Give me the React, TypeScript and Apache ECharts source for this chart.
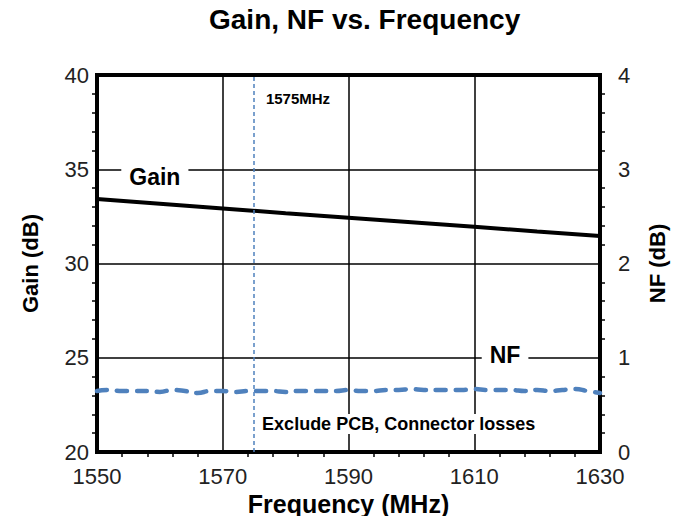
import React, { useEffect, useRef } from "react";
import * as echarts from "echarts";

const freqTicks = [1550, 1570, 1590, 1610, 1630];
const gainFreq = [1550, 1560, 1570, 1580, 1590, 1600, 1610, 1620, 1630];
const gainValues = [33.42, 33.17, 32.92, 32.67, 32.43, 32.19, 31.95, 31.7, 31.46];
const nfFreq = [
  1550, 1552, 1554, 1556, 1558, 1560, 1562, 1564, 1566, 1568, 1570, 1572, 1574, 1576,
  1578, 1580, 1582, 1584, 1586, 1588, 1590, 1592, 1594, 1596, 1598, 1600, 1602, 1604,
  1606, 1608, 1610, 1612, 1614, 1616, 1618, 1620, 1622, 1624, 1626, 1628, 1630,
];
const nfValues = [
  0.647, 0.658, 0.647, 0.647, 0.647, 0.637, 0.658, 0.647, 0.626, 0.647, 0.647, 0.637,
  0.647, 0.647, 0.647, 0.637, 0.647, 0.647, 0.647, 0.647, 0.658, 0.647, 0.647, 0.658,
  0.658, 0.668, 0.658, 0.658, 0.658, 0.658, 0.668, 0.658, 0.658, 0.658, 0.647, 0.658,
  0.647, 0.658, 0.668, 0.647, 0.626,
];
const markerFreq = 1575;
const annotations = [
  { text: "Gain", freq: 1559.2, gain: 34.6, size: 23, align: "center" },
  { text: "NF", freq: 1614.9, gain: 25.15, size: 23, align: "center" },
  { text: "1575MHz", freq: 1576.7, gain: 38.73, size: 15, align: "left" },
  { text: "Exclude PCB, Connector losses", freq: 1576.1, gain: 21.49, size: 18, align: "left" },
];

const FONT = "'Liberation Sans', Arial, sans-serif";

export default function App() {
  const ref = useRef<HTMLDivElement>(null);
  useEffect(() => {
    if (!ref.current) return;
    const chart = echarts.init(ref.current, undefined, { renderer: "svg" });
    const axisLabel = { color: "#222", fontSize: 22, fontFamily: FONT };
    const nameStyle = { color: "#000", fontSize: 22, fontWeight: "bold" as const, fontFamily: FONT };
    chart.setOption({
      animation: false,
      backgroundColor: "#fff",
      title: {
        text: "Gain, NF vs. Frequency",
        left: 204,
        top: 0,
        textStyle: { fontSize: 28, fontWeight: "bold", color: "#000", fontFamily: FONT },
      },
      grid: {
        left: 97,
        right: 86,
        top: 75,
        bottom: 72,
        show: true,
        borderColor: "#000",
        borderWidth: 4,
        backgroundColor: "transparent",
      },
      xAxis: {
        type: "value",
        min: 1550,
        max: 1630,
        interval: 20,
        name: "Frequency (MHz)",
        nameLocation: "middle",
        nameGap: 33,
        nameTextStyle: { ...nameStyle, fontSize: 25 },
        axisLine: { show: true, onZero: false, lineStyle: { color: "#000", width: 4 } },
        axisTick: { show: false },
        minorTick: { show: true, splitNumber: 5, length: 5, lineStyle: { color: "#000", width: 1.5 } },
        axisLabel: { ...axisLabel, margin: 13, formatter: (v: number) => (freqTicks.includes(v) ? String(v) : "") },
        splitLine: { show: true, lineStyle: { color: "#000", width: 1.5 } },
      },
      yAxis: [
        {
          type: "value",
          min: 20,
          max: 40,
          interval: 5,
          name: "Gain (dB)",
          nameLocation: "middle",
          nameGap: 56,
          nameTextStyle: nameStyle,
          axisLine: { show: true, lineStyle: { color: "#000", width: 4 } },
          axisTick: { show: false },
          minorTick: { show: true, splitNumber: 5, length: 5, lineStyle: { color: "#000", width: 1.5 } },
          axisLabel: { ...axisLabel, margin: 8 },
          splitLine: { show: true, lineStyle: { color: "#000", width: 1.5 } },
        },
        {
          type: "value",
          min: 0,
          max: 4,
          interval: 1,
          name: "NF (dB)",
          nameLocation: "middle",
          nameGap: 46,
          nameTextStyle: nameStyle,
          position: "right",
          axisLine: { show: true, lineStyle: { color: "#000", width: 4 } },
          axisTick: { show: false },
          minorTick: { show: true, splitNumber: 5, length: 5, lineStyle: { color: "#000", width: 1.5 } },
          axisLabel: { ...axisLabel, margin: 18 },
          splitLine: { show: false },
        },
      ],
      series: [
        {
          name: "NF",
          type: "line",
          yAxisIndex: 1,
          data: nfFreq.map((f, i) => [f, nfValues[i]]),
          symbol: "none",
          smooth: 0.5,
          lineStyle: { color: "#4F81BD", width: 4.5, type: [10, 10], cap: "round" },
          z: 3,
        },
        {
          name: "Gain",
          type: "line",
          yAxisIndex: 0,
          data: gainFreq.map((f, i) => [f, gainValues[i]]),
          symbol: "none",
          lineStyle: { color: "#000", width: 4 },
          z: 4,
          markLine: {
            silent: true,
            symbol: "none",
            label: { show: false },
            lineStyle: { color: "#4F81BD", width: 1.5, type: [4, 3] },
            data: [{ xAxis: markerFreq }],
          },
          markPoint: {
            symbol: "rect",
            symbolSize: 0,
            data: annotations.map((a) => ({
              coord: [a.freq, a.gain],
              label: {
                show: true,
                formatter: a.text,
                position: "inside",
                align: a.align,
                verticalAlign: "middle",
                fontSize: a.size,
                fontWeight: "bold",
                fontFamily: FONT,
                color: "#000",
                backgroundColor: "#fff",
                padding: a.align === "center" ? [2, 8] : [1, 1],
              },
            })),
          },
        },
      ],
    });
    return () => chart.dispose();
  }, []);
  return <div ref={ref} style={{ width: 686, height: 524, margin: -8 }} />;
}
